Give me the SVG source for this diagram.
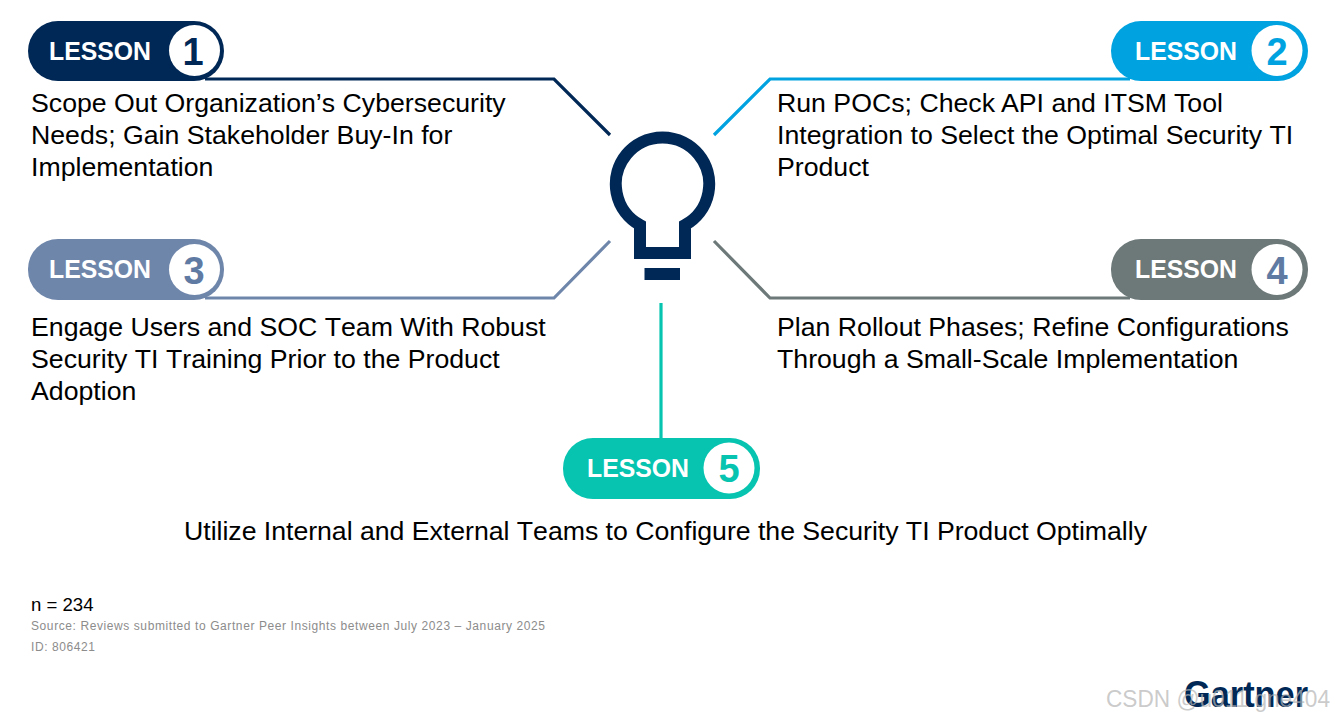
<svg xmlns="http://www.w3.org/2000/svg" width="1334" height="721" viewBox="0 0 1334 721">
<style>
text{font-family:"Liberation Sans",Arial,sans-serif}
.b{font-size:26.7px;fill:#000;font-kerning:none}
.k{font-kerning:normal}
.l{font-size:25px;font-weight:700;fill:#fff}
.n{font-size:38px;font-weight:700;text-anchor:middle}
.c{fill:none;stroke-width:3.2}
.s{font-size:12px;fill:#8c8c8c}
</style>
<rect width="1334" height="721" fill="#fff"/>
<g id="connectors">
<path class="c" stroke="#002856" d="M205 79H554L610 135"/>
<path class="c" stroke="#00a3e0" d="M1130 79H770L714 135"/>
<path class="c" stroke="#6f86ab" d="M205 298H554L610 241"/>
<path class="c" stroke="#6d7878" d="M1130 298H770L714 241"/>
<path class="c" stroke="#07c4b0" d="M661 303V440"/>
</g>
<g id="bulb">
<path fill="none" stroke="#002856" stroke-width="12" stroke-miterlimit="10" d="M640 225A46.700 46.700 0 1 1 685 225V253H640Z"/>
<rect x="644.500" y="268" width="35.500" height="12" fill="#002856"/>
</g>
<g id="lesson1">
<rect x="28" y="21" width="196" height="60" rx="30" fill="#002856"/>
<circle cx="194.500" cy="50.500" r="25.500" fill="#fff"/>
<text class="l" x="49" y="60" textLength="102" lengthAdjust="spacingAndGlyphs">LESSON</text>
<text class="n" x="193" y="65" fill="#002856">1</text>
<text class="b"><tspan x="31" y="111.500">Scope Out Organization’s Cybersecurity</tspan><tspan x="31" y="143.500">Needs; Gain Stakeholder Buy-In for</tspan><tspan x="31" y="175.500">Implementation</tspan></text>
</g>
<g id="lesson2">
<rect x="1111" y="21" width="197" height="60" rx="30" fill="#00a3e0"/>
<circle cx="1277" cy="50.500" r="25.500" fill="#fff"/>
<text class="l" x="1135" y="60" textLength="102" lengthAdjust="spacingAndGlyphs">LESSON</text>
<text class="n" x="1277" y="65" fill="#00a3e0">2</text>
<text class="b"><tspan class="k" x="777" y="111.500">Run POCs; Check API and ITSM Tool</tspan><tspan x="777" y="143.500">Integration to Select the Optimal Security TI</tspan><tspan x="777" y="175.500">Product</tspan></text>
</g>
<g id="lesson3">
<rect x="28" y="239" width="196" height="61" rx="30" fill="#6f86ab"/>
<circle cx="194.500" cy="269.500" r="25.500" fill="#fff"/>
<text class="l" x="49" y="278" textLength="102" lengthAdjust="spacingAndGlyphs">LESSON</text>
<text class="n" x="194" y="284" fill="#5f7aa3">3</text>
<text class="b"><tspan x="31" y="336">Engage Users and SOC Team With Robust</tspan><tspan x="31" y="367.500">Security TI Training Prior to the Product</tspan><tspan x="31" y="399.500">Adoption</tspan></text>
</g>
<g id="lesson4">
<rect x="1111" y="239" width="197" height="61" rx="30" fill="#6d7878"/>
<circle cx="1277" cy="269.500" r="25.500" fill="#fff"/>
<text class="l" x="1135" y="278" textLength="102" lengthAdjust="spacingAndGlyphs">LESSON</text>
<text class="n" x="1277" y="284" fill="#5f7aa3">4</text>
<text class="b"><tspan x="777" y="336">Plan Rollout Phases; Refine Configurations</tspan><tspan x="777" y="367.500">Through a Small-Scale Implementation</tspan></text>
</g>
<g id="lesson5">
<rect x="563" y="438" width="197" height="61" rx="30" fill="#07c4b0"/>
<circle cx="729" cy="468" r="25.500" fill="#fff"/>
<text class="l" x="587" y="477" textLength="102" lengthAdjust="spacingAndGlyphs">LESSON</text>
<text class="n" x="729" y="482" fill="#07c4b0">5</text>
<text class="b" x="184" y="540" textLength="963" lengthAdjust="spacing">Utilize Internal and External Teams to Configure the Security TI Product Optimally</text>
</g>
<g id="footer">
<text x="31" y="611" font-size="18.600" fill="#000">n = 234</text>
<text class="s" x="31" y="630" textLength="514" lengthAdjust="spacing">Source: Reviews submitted to Gartner Peer Insights between July 2023 – January 2025</text>
<text class="s" x="31" y="651" textLength="64" lengthAdjust="spacing">ID: 806421</text>
</g>
<g id="logo">
<text x="1184" y="707" font-size="37" font-weight="700" fill="#002856" textLength="124" lengthAdjust="spacingAndGlyphs">Gartner</text>
<text x="1106" y="707" font-size="23" fill="#b4b4b4" fill-opacity=".7" textLength="224" lengthAdjust="spacingAndGlyphs">CSDN @u011 gne404</text>
</g>
</svg>
